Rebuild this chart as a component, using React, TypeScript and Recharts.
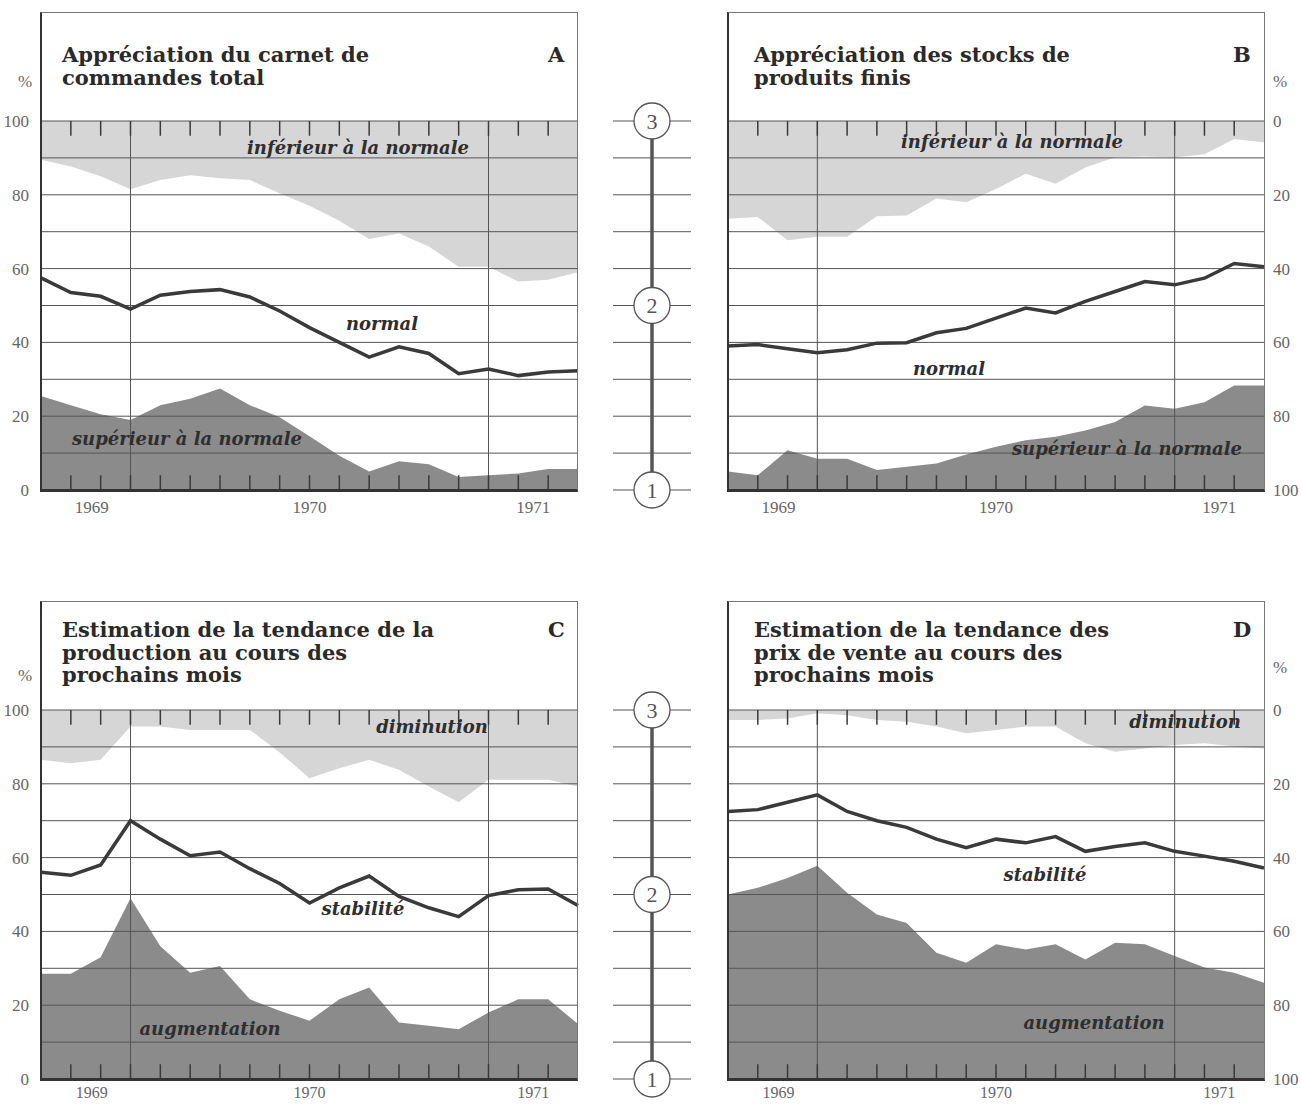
import React from "react";
import { ComposedChart, Area, Line, Scatter, XAxis, YAxis, ReferenceLine } from "recharts";

// monthly survey points, Oct 1969 .. Apr 1971 (index along the axis)
const surveyMonths = [0, 1, 2, 3, 4, 5, 6, 7, 8, 9, 10, 11, 12, 13, 14, 15, 16, 17, 18];
const monthTicks = [1, 2, 3, 4, 5, 6, 7, 8, 9, 10, 11, 12, 13, 14, 15, 16, 17];
const yearStarts = [3, 15];
const yearTicks = [1.7, 9, 16.5];
const yearLabels = ["1969", "1970", "1971"];
const percentTicks = [0, 20, 40, 60, 80, 100];
const gridLevels = [0, 10, 20, 30, 40, 50, 60, 70, 80, 90, 100];
const scaleLevels = ["1", "2", "3"];
const scalePositions = [0, 50, 100];

// A - carnet de commandes total (%)
const aInferieur = [10.5, 12.3, 15, 18.5, 16, 14.7, 15.5, 16, 19.6, 23, 27, 32, 30.5, 34, 39.5, 39.5, 43.5, 43, 41];
const aSuperieur = [25.5, 23, 20.5, 19, 23, 24.7, 27.5, 23, 19.7, 14.6, 9.3, 5, 7.8, 7, 3.5, 4, 4.5, 5.7, 5.7];
const aIndice = [57.5, 53.5, 52.5, 49, 52.8, 53.8, 54.3, 52.3, 48.5, 44, 40, 36, 38.8, 37, 31.5, 32.8, 31, 32, 32.3];

// B - stocks de produits finis (%, axe inversé)
const bInferieur = [26.5, 26, 32.3, 31.4, 31.4, 25.8, 25.6, 21, 22, 18.4, 14.3, 17, 12.6, 9.8, 9.6, 9.9, 9, 4.9, 5.8];
const bSuperieur = [5, 4, 10.8, 8.5, 8.5, 5.4, 6.3, 7.2, 9.6, 11.7, 13.5, 14.4, 16.1, 18.4, 22.9, 22, 23.8, 28.3, 28.3];
const bIndice = [61, 60.6, 61.7, 62.8, 62, 60.2, 60.1, 57.4, 56.2, 53.4, 50.7, 52, 48.9, 46.2, 43.5, 44.4, 42.6, 38.6, 39.5];

// C - tendance de la production (%)
const cDiminution = [13.5, 14.4, 13.5, 4.5, 4.5, 5.4, 5.4, 5.4, 11.5, 18.5, 15.8, 13.5, 16.2, 20.7, 25, 18.9, 18.9, 18.9, 20.7];
const cAugmentation = [28.5, 28.5, 33, 49, 36, 28.8, 30.6, 21.6, 18.5, 15.8, 21.6, 24.8, 15.3, 14.4, 13.5, 18, 21.6, 21.6, 14.9];
const cStabilite = [56, 55.2, 58, 70, 65, 60.5, 61.5, 57, 53, 47.7, 51.8, 55, 49.5, 46.4, 44, 49.7, 51.3, 51.5, 47];

// D - tendance des prix de vente (%, axe inversé)
const dDiminution = [2.7, 2.7, 2.3, 0.9, 1.4, 2.7, 3.2, 4.5, 6.3, 5.4, 4.5, 4.5, 9, 11.3, 10.4, 9.5, 9, 9.9, 10.4];
const dAugmentation = [50, 51.8, 54.5, 57.8, 50.5, 44.6, 42.3, 34.2, 31.5, 36.5, 35.1, 36.5, 32.4, 36.9, 36.5, 33.3, 30.2, 28.8, 26.1];
const dStabilite = [27.5, 27, 25, 23, 27.5, 30, 31.8, 35, 37.3, 35, 36, 34.3, 38.3, 37, 36, 38.3, 39.6, 41, 42.8];

const LIGHT = "#d6d6d6";
const DARK = "#8b8b8b";
const INK = "#3a3a3a";
const GRID = "#555";
const SERIF = "Liberation Serif";
const TITLE_FONT = "DejaVu Serif";

const tickStyle = { fill: "#666", fontSize: 17, fontFamily: SERIF };

function buildRows(top: number[], bottom: number[], line: number[], reversed: boolean) {
  return surveyMonths.map((m, i) => ({
    m,
    upper: reversed ? [0, top[i]] : [100 - top[i], 100],
    lower: reversed ? [100 - bottom[i], 100] : [0, bottom[i]],
    indice: line[i],
  }));
}

function Panel({ left, top, rows, reversed, side, yearGap }: any) {
  const isLeft = side === "left";
  const width = isLeft ? 600 : 701;
  const margin = isLeft
    ? { top: 121, right: 22, bottom: 5, left: 0 }
    : { top: 121, right: 0, bottom: 5, left: 128 };
  const topEdge = reversed ? 0 : 100;
  const bottomEdge = reversed ? 100 : 0;
  const dir = reversed ? 4 : -4;
  return (
    <div style={{ position: "absolute", left, top }}>
      <ComposedChart width={width} height={520} data={rows} margin={margin}>
        <XAxis
          dataKey="m"
          type="number"
          domain={[0, 18]}
          ticks={yearTicks}
          interval={0}
          tickFormatter={(v: number) => yearLabels[yearTicks.indexOf(v)]}
          axisLine={false}
          tickLine={false}
          tickMargin={yearGap}
          height={25}
          tick={{ ...tickStyle, fontSize: yearGap < 4 ? 16 : 17 }}
        />
        <YAxis
          type="number"
          domain={[0, 100]}
          ticks={percentTicks}
          interval={0}
          reversed={reversed}
          orientation={side}
          width={isLeft ? 41 : 37}
          axisLine={false}
          tickLine={false}
          tickMargin={isLeft ? 6 : 3}
          tick={tickStyle}
        />
        <Area dataKey="upper" type="linear" fill={LIGHT} fillOpacity={1} stroke="none" isAnimationActive={false} />
        <Area dataKey="lower" type="linear" fill={DARK} fillOpacity={1} stroke="none" isAnimationActive={false} />
        {gridLevels.map((v) => (
          <ReferenceLine key={"g" + v} y={v} stroke={GRID} strokeWidth={1} />
        ))}
        {yearStarts.map((x) => (
          <ReferenceLine key={"v" + x} x={x} stroke={GRID} strokeWidth={1} />
        ))}
        {monthTicks.map((x) => (
          <ReferenceLine
            key={"t" + x}
            segment={[{ x, y: topEdge }, { x, y: topEdge + dir }]}
            stroke={INK}
            strokeWidth={1.5}
          />
        ))}
        {monthTicks.map((x) => (
          <ReferenceLine
            key={"b" + x}
            segment={[{ x, y: bottomEdge }, { x, y: bottomEdge - dir }]}
            stroke={INK}
            strokeWidth={1.5}
          />
        ))}
        <Line dataKey="indice" type="linear" stroke={INK} strokeWidth={3.5} dot={false} isAnimationActive={false} />
      </ComposedChart>
    </div>
  );
}

// scale 1..3 between the two panels of a row
const scaleRows = scaleLevels.map((level, i) => ({ col: 1, level, pos: scalePositions[i] }));

function ScaleMark(props: any) {
  const { cx, cy, payload } = props;
  return (
    <g>
      <circle cx={cx} cy={cy} r={18} fill="#fff" stroke={GRID} strokeWidth={1.3} />
      <text
        x={cx}
        y={cy}
        dy="0.36em"
        textAnchor="middle"
        fontFamily={SERIF}
        fontSize={22}
        fill="#555"
      >
        {payload.level}
      </text>
    </g>
  );
}

function IndexScale({ left, top }: any) {
  return (
    <div style={{ position: "absolute", left, top }}>
      <ComposedChart width={78} height={520} data={scaleRows} margin={{ top: 121, right: 0, bottom: 30, left: 0 }}>
        <XAxis dataKey="col" type="number" domain={[0, 2]} hide />
        <YAxis dataKey="pos" type="number" domain={[0, 100]} hide />
        {gridLevels.map((v) => (
          <ReferenceLine key={v} segment={[{ x: 0, y: v }, { x: 2, y: v }]} stroke={GRID} strokeWidth={1} />
        ))}
        <ReferenceLine x={1} stroke={GRID} strokeWidth={3.5} />
        <Scatter dataKey="pos" shape={<ScaleMark />} isAnimationActive={false} />
      </ComposedChart>
    </div>
  );
}

function Frame({ left, top }: any) {
  return (
    <div
      style={{
        position: "absolute",
        left,
        top,
        width: 538,
        height: 480,
        boxSizing: "border-box",
        borderTop: "1px solid #777",
        borderRight: "1px solid #777",
        borderLeft: "2.5px solid #333",
        borderBottom: "3px solid #333",
        pointerEvents: "none",
      }}
    />
  );
}

function Title({ left, top, lines, letter, letterLeft }: any) {
  const style: any = {
    position: "absolute",
    top,
    fontFamily: TITLE_FONT,
    fontWeight: "bold",
    fontSize: 21,
    lineHeight: "22.5px",
    color: "#2a2a2a",
    whiteSpace: "nowrap",
  };
  return (
    <>
      <div style={{ ...style, left }}>
        {lines.map((l: string) => (
          <div key={l}>{l}</div>
        ))}
      </div>
      <div style={{ ...style, left: letterLeft }}>{letter}</div>
    </>
  );
}

function Note({ x, y, children }: any) {
  return (
    <div
      style={{
        position: "absolute",
        left: x,
        top: y,
        transform: "translate(-50%, -50%)",
        fontFamily: TITLE_FONT,
        fontStyle: "italic",
        fontWeight: "bold",
        fontSize: 18,
        color: "#2e2e2e",
        whiteSpace: "nowrap",
      }}
    >
      {children}
    </div>
  );
}

function Pct({ x, y }: any) {
  return (
    <div
      style={{
        position: "absolute",
        left: x,
        top: y,
        transform: "translate(-50%, -50%)",
        fontFamily: SERIF,
        fontSize: 17,
        color: "#666",
      }}
    >
      %
    </div>
  );
}

export default function App() {
  const rowsA = buildRows(aInferieur, aSuperieur, aIndice, false);
  const rowsB = buildRows(bInferieur, bSuperieur, bIndice, true);
  const rowsC = buildRows(cDiminution, cAugmentation, cStabilite, false);
  const rowsD = buildRows(dDiminution, dAugmentation, dStabilite, true);
  return (
    <div
      style={{
        position: "absolute",
        left: 0,
        top: 0,
        width: 1301,
        height: 1104,
        background: "#fff",
        overflow: "hidden",
      }}
    >
      <Panel left={0} top={0} rows={rowsA} reversed={false} side="left" yearGap={5} />
      <Panel left={600} top={0} rows={rowsB} reversed={true} side="right" yearGap={5} />
      <Panel left={0} top={589} rows={rowsC} reversed={false} side="left" yearGap={2} />
      <Panel left={600} top={589} rows={rowsD} reversed={true} side="right" yearGap={2} />
      <IndexScale left={613} top={0} />
      <IndexScale left={613} top={589} />

      <Frame left={40} top={12} />
      <Frame left={727} top={12} />
      <Frame left={40} top={601} />
      <Frame left={727} top={601} />

      <Title left={62} top={44} lines={["Appréciation du carnet de", "commandes total"]} letter="A" letterLeft={548} />
      <Title left={754} top={44} lines={["Appréciation des stocks de", "produits finis"]} letter="B" letterLeft={1233} />
      <Title
        left={62}
        top={619}
        lines={["Estimation de la tendance de la", "production au cours des", "prochains mois"]}
        letter="C"
        letterLeft={548}
      />
      <Title
        left={754}
        top={619}
        lines={["Estimation de la tendance des", "prix de vente au cours des", "prochains mois"]}
        letter="D"
        letterLeft={1233}
      />

      <Pct x={25} y={82} />
      <Pct x={1280} y={82} />
      <Pct x={25} y={676} />
      <Pct x={1280} y={668} />

      <Note x={358} y={147}>inférieur à la normale</Note>
      <Note x={382} y={323}>normal</Note>
      <Note x={187} y={438}>supérieur à la normale</Note>
      <Note x={1012} y={141}>inférieur à la normale</Note>
      <Note x={949} y={368}>normal</Note>
      <Note x={1127} y={448}>supérieur à la normale</Note>
      <Note x={432} y={726}>diminution</Note>
      <Note x={363} y={908}>stabilité</Note>
      <Note x={210} y={1028}>augmentation</Note>
      <Note x={1185} y={721}>diminution</Note>
      <Note x={1045} y={874}>stabilité</Note>
      <Note x={1094} y={1022}>augmentation</Note>
    </div>
  );
}
